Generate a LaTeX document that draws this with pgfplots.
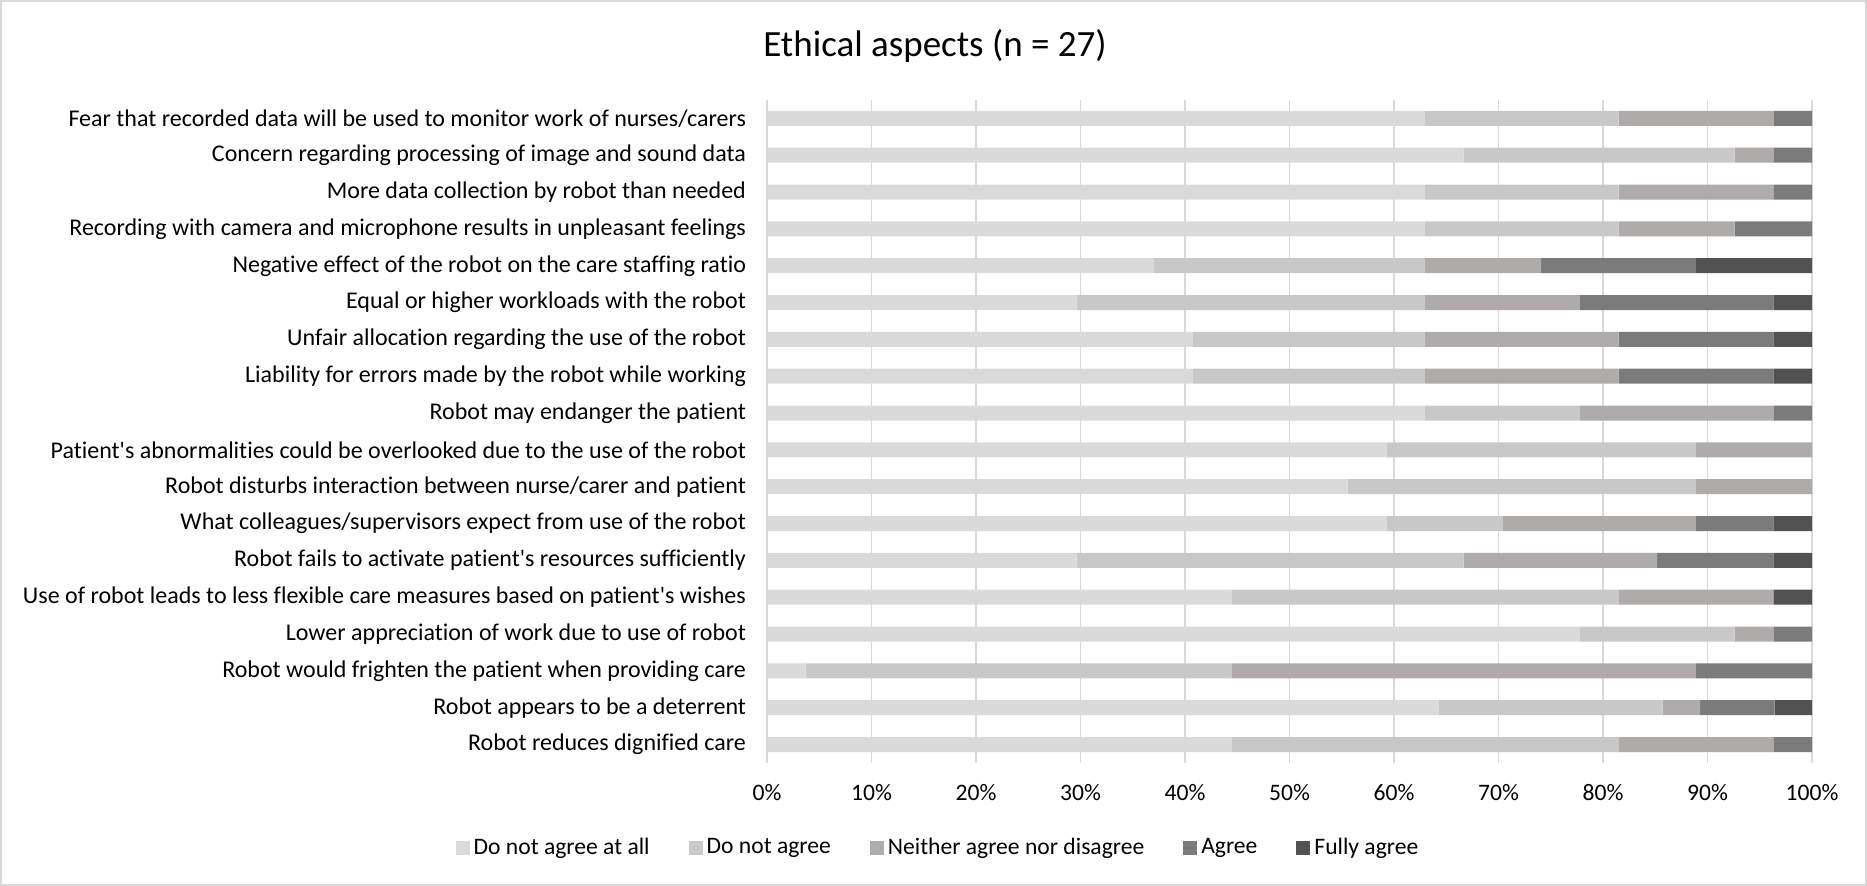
\documentclass[border=0pt]{standalone}
\usepackage{fontspec}
\setmainfont{Carlito}[RawFeature=-liga]
\usepackage{pgfplots}
\usepackage{pgfplotstable}
\pgfplotsset{compat=1.18}

\definecolor{c1}{HTML}{DADADA}
\definecolor{c2}{HTML}{C8C8C8}
\definecolor{c3}{HTML}{AEABAA}
\definecolor{c4}{HTML}{7B7B7B}
\definecolor{c5}{HTML}{525252}
\definecolor{gridc}{HTML}{D9D9D9}

% Share of answers per statement (%), rows from top to bottom
\pgfplotstableread{
row s1     s2     s3     s4     s5
0   62.963 18.519 14.815 3.704  0
1   66.667 25.926 3.704  3.704  0
2   62.963 18.519 14.815 3.704  0
3   62.963 18.519 11.111 7.407  0
4   37.037 25.926 11.111 14.815 11.111
5   29.630 33.333 14.815 18.519 3.704
6   40.741 22.222 18.519 14.815 3.704
7   40.741 22.222 18.519 14.815 3.704
8   62.963 14.815 18.519 3.704  0
9   59.259 29.630 11.111 0      0
10  55.556 33.333 11.111 0      0
11  59.259 11.111 18.519 7.407  3.704
12  29.630 37.037 18.519 11.111 3.704
13  44.444 37.037 14.815 0      3.704
14  77.778 14.815 3.704  3.704  0
15  3.704  40.741 44.444 11.111 0
16  64.286 21.429 3.571  7.143  3.571
17  44.444 37.037 14.815 3.704  0
}\ethics

\newcommand{\ap}{\textquotesingle}

\begin{document}
\begin{tikzpicture}[x=1pt,y=1pt]
\useasboundingbox (0,0) rectangle (933.5,443);
\draw[color=gridc, line width=0.8pt] (0.5,0.5) rectangle (933,442.5);
\node[font=\fontsize{18.5}{22}\selectfont] at (467.5,420) {Ethical aspects (n = 27)};
\begin{axis}[
  at={(383.5pt,61.5pt)}, anchor=south west,
  scale only axis, width=522.5pt, height=331.5pt,
  xbar stacked, bar width=7.5pt,
  xmin=0, xmax=100, ymin=-0.5, ymax=17.5,
  y dir=reverse,
  axis line style={draw=none},
  major tick length=0pt,
  xmajorgrids, grid style={color=gridc, line width=0.6pt},
  xtick={0,10,...,100},
  xticklabels={0\%,10\%,20\%,30\%,40\%,50\%,60\%,70\%,80\%,90\%,100\%},
  xticklabel style={font=\fontsize{11.8}{13}\selectfont, yshift=-7pt},
  ytick={0,...,17},
  yticklabels={
    Fear that recorded data will be used to monitor work of nurses/carers,
    Concern regarding processing of image and sound data,
    More data collection by robot than needed,
    Recording with camera and microphone results in unpleasant feelings,
    Negative effect of the robot on the care staffing ratio,
    Equal or higher workloads with the robot,
    Unfair allocation regarding the use of the robot,
    Liability for errors made by the robot while working,
    Robot may endanger the patient,
    Patient\ap s abnormalities could be overlooked due to the use of the robot,
    Robot disturbs interaction between nurse/carer and patient,
    What colleagues/supervisors expect from use of the robot,
    Robot fails to activate patient\ap s resources sufficiently,
    Use of robot leads to less flexible care measures based on patient\ap s wishes,
    Lower appreciation of work due to use of robot,
    Robot would frighten the patient when providing care,
    Robot appears to be a deterrent,
    Robot reduces dignified care},
  yticklabel style={font=\fontsize{12}{14}\selectfont, xshift=-7pt},
  legend columns=5,
  legend style={at={(0.1646,-0.128)}, anchor=center, draw=none, fill=none,
    font=\fontsize{11.8}{13}\selectfont,
    /tikz/every even column/.append style={column sep=17.5pt}},
  legend image code/.code={\fill[#1] (0pt,-3.5pt) rectangle (7pt,3.5pt);},
]
\addplot[fill=c1, draw=none] table[x=s1, y=row] {\ethics};
\addplot[fill=c2, draw=none] table[x=s2, y=row] {\ethics};
\addplot[fill=c3, draw=none] table[x=s3, y=row] {\ethics};
\addplot[fill=c4, draw=none] table[x=s4, y=row] {\ethics};
\addplot[fill=c5, draw=none] table[x=s5, y=row] {\ethics};
\legend{Do not agree at all, Do not agree, Neither agree nor disagree, Agree, Fully agree}
\end{axis}
\end{tikzpicture}
\end{document}
